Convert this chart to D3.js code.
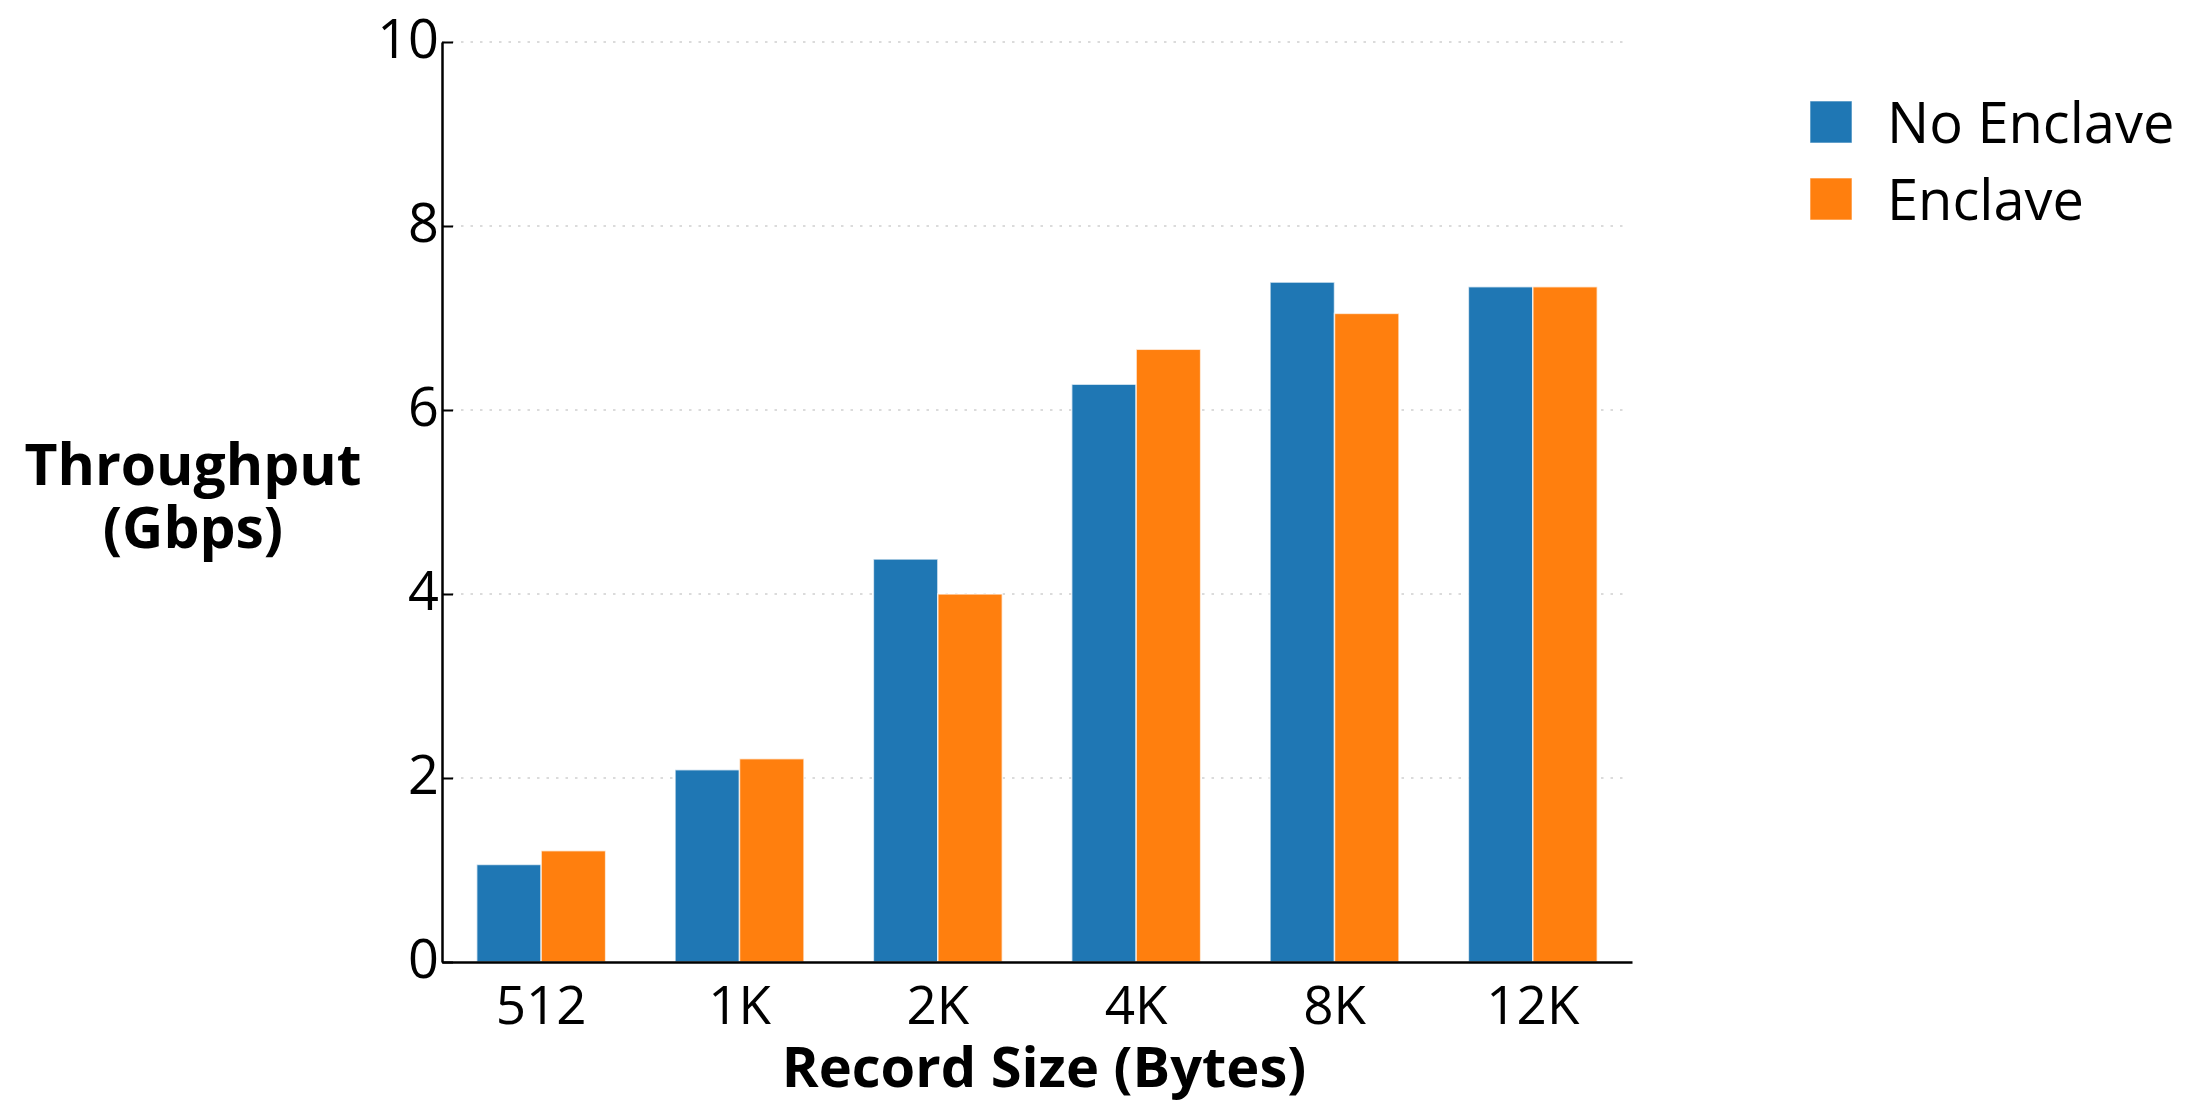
<!DOCTYPE html>
<html>
<head>
<meta charset="utf-8">
<script src="https://cdn.jsdelivr.net/npm/d3@7"></script>
<style>
  html, body { margin: 0; padding: 0; background: #fff; }
  svg { display: block; }
  text { font-family: "Open Sans", "Noto Sans", sans-serif; fill: #000; }
</style>
</head>
<body>
<svg id="chart" width="2206" height="1102"></svg>
<script>
const categories = ["512", "1K", "2K", "4K", "8K", "12K"];
const seriesNames = ["No Enclave", "Enclave"];
const noEnclave = [1.06, 2.09, 4.38, 6.28, 7.39, 7.34];
const enclave = [1.21, 2.21, 4.00, 6.66, 7.05, 7.34];
const yTicks = [0, 2, 4, 6, 8, 10];
const yTitleLines = ["Throughput", "(Gbps)"];
const xTitle = "Record Size (Bytes)";
const colors = ["#1f77b4", "#ff7f0e"];

const svg = d3.select("#chart");
const plotLeft = 442, plotRight = 1632, plotTop = 42, plotBottom = 962;

const x = d3.scaleBand().domain(categories).range([plotLeft, plotRight]).padding(0);
const y = d3.scaleLinear().domain([0, 10]).range([plotBottom, plotTop]);
const barW = x.bandwidth() * 0.325;

// gridlines
svg.append("g").selectAll("line").data(yTicks.filter(d => d > 0)).join("line")
  .attr("x1", plotLeft).attr("x2", plotRight - 3)
  .attr("y1", d => y(d)).attr("y2", d => y(d))
  .attr("stroke", "#b8b8b8").attr("stroke-width", 1.2)
  .attr("stroke-dasharray", "2.5,7");

// bars
const series = [noEnclave, enclave];
series.forEach((vals, si) => {
  svg.append("g").selectAll("rect").data(vals).join("rect")
    .attr("x", (d, i) => x(categories[i]) + x.bandwidth() / 2 + (si === 0 ? -barW : 0))
    .attr("y", d => y(d))
    .attr("width", barW)
    .attr("height", d => y(0) - y(d))
    .attr("fill", colors[si])
    .attr("stroke", "#fff").attr("stroke-width", 1.5).attr("stroke-opacity", 0.7);
});

// y axis
const yAxis = d3.axisLeft(y).tickValues(yTicks).tickSizeInner(-11).tickSizeOuter(0).tickPadding(14);
const gy = svg.append("g").attr("transform", `translate(${plotLeft},0)`).call(yAxis);
gy.select(".domain").attr("stroke", "#000").attr("stroke-width", 2.5);
gy.selectAll(".tick line").attr("stroke", "#000").attr("stroke-width", 2);
gy.selectAll(".tick text").attr("font-size", 54).attr("font-family", "Open Sans").attr("fill", "#000")
  .attr("x", -3).attr("dy", "0.28em");

// x axis
const xAxis = d3.axisBottom(x).tickSize(0).tickPadding(14);
const gx = svg.append("g").attr("transform", `translate(0,${plotBottom})`).call(xAxis);
gx.select(".domain").attr("stroke", "#000").attr("stroke-width", 2.5);
gx.selectAll(".tick text").attr("font-size", 53).attr("font-family", "Open Sans").attr("fill", "#000")
  .attr("dy", "0.9em");

// axis titles
yTitleLines.forEach((t, i) => {
  svg.append("text").attr("x", 193).attr("y", 485 + i * 63).attr("text-anchor", "middle")
    .attr("font-size", 57).attr("font-weight", 700).text(t);
});

svg.append("text").attr("x", 1044).attr("y", 1087).attr("text-anchor", "middle")
  .attr("font-size", 56).attr("font-weight", 700).text(xTitle);

// legend
const lg = svg.append("g");
seriesNames.forEach((name, i) => {
  const yb = 143 + i * 77;
  lg.append("rect").attr("x", 1810).attr("y", yb - 42).attr("width", 42).attr("height", 42)
    .attr("fill", colors[i]).attr("stroke", "#fff").attr("stroke-width", 1).attr("stroke-opacity", 0.6);
  lg.append("text").attr("x", 1887).attr("y", yb).attr("font-size", 56).text(name);
});
</script>
</body>
</html>
